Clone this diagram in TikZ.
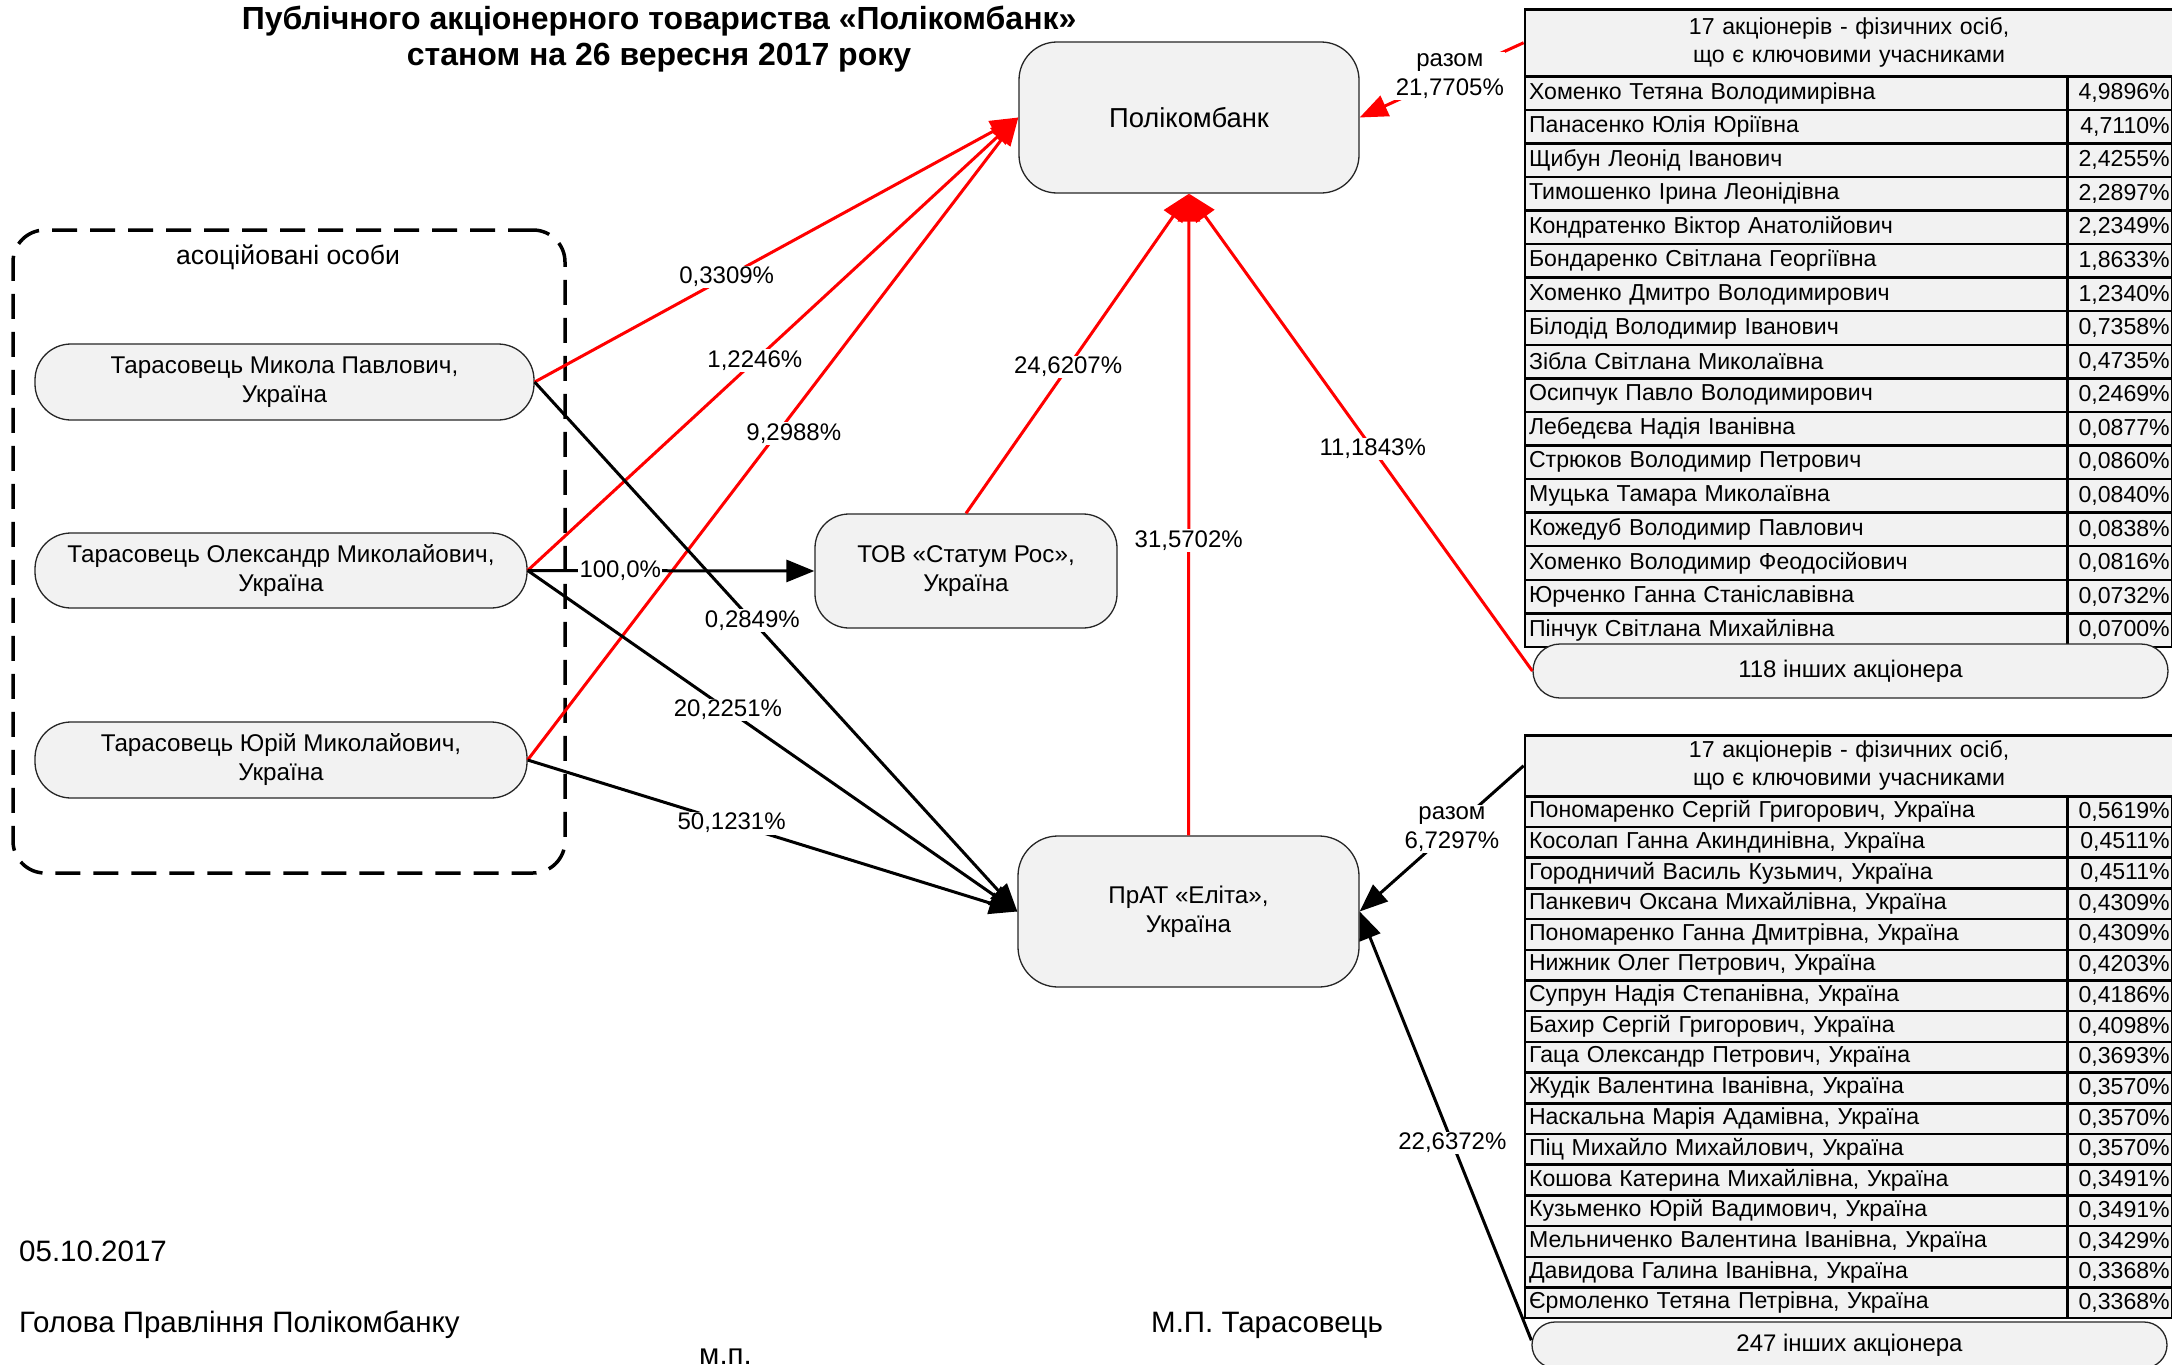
\documentclass[tikz,border=0pt]{standalone}
\usepackage{fontspec}
\setmainfont{Liberation Sans}
\usetikzlibrary{arrows.meta,calc}
\definecolor{boxgray}{HTML}{F2F2F2}
\newcommand\fTitle{\fontsize{32}{38}\selectfont\bfseries}
\newcommand\fNode{\fontsize{24.2}{29}\selectfont}
\newcommand\fBig{\fontsize{27.4}{31}\selectfont}
\newcommand\fLbl{\fontsize{24}{29}\selectfont}
\newcommand\fTab{\fontsize{23.1}{28}\selectfont}
\newcommand\fGrp{\fontsize{26.6}{30}\selectfont}
\newcommand\fFoot{\fontsize{29.5}{35}\selectfont}
\begin{document}
\begin{tikzpicture}[x=1pt,y=-1pt,
  box/.style={draw=black!85, line width=1.3pt, fill=boxgray, align=center, font=\fNode, inner sep=0pt},
  lbl/.style={fill=white, inner sep=1.5pt, font=\fLbl},
  redln/.style={draw=red, line width=3pt, -{Triangle[length=28pt,width=22pt]}},
  blkln/.style={draw=black, line width=3pt, -{Triangle[length=28pt,width=22pt]}},
  tcell/.style={draw, line width=2.5pt, fill=boxgray, font=\fTab, inner ysep=0pt, anchor=north west},
  namecell/.style={tcell, text width=534pt, align=left, inner xsep=4.2pt},
  pctcell/.style={tcell, text width=100.5pt, align=right, inner xsep=2pt},
  headcell/.style={tcell, text width=640pt, align=center, inner xsep=4.2pt},
  foot/.style={font=\fFoot, inner sep=0pt, anchor=base west}
]
\useasboundingbox (0,0) rectangle (2172,1365);
\clip (0,0) rectangle (2172,1365);
\fill[white] (0,0) rectangle (2172,1365);

% title
\node[anchor=base, font=\fTitle, inner sep=0pt] (title1) at (659,29) {Публічного акціонерного товариства «Полікомбанк»};
\node[anchor=base, font=\fTitle, inner sep=0pt] (title2) at (659,65) {станом на 26 вересня 2017 року};

% associated persons group
\node[draw, line width=3.5pt, dash pattern=on 25pt off 13pt, rounded corners=32pt,
      minimum width=552pt, minimum height=643pt, inner sep=0pt] (grp) at (289,551.5) {};
\node[font=\fGrp, inner sep=0pt] (grplbl) at (288,257) {асоційовані особи};

\node[box, rounded corners=36pt, minimum width=499pt, minimum height=76pt] (p1) at (284.5,382) {Тарасовець Микола Павлович,\\Україна};
\node[box, rounded corners=36pt, minimum width=492pt, minimum height=75pt] (p2) at (281,570.5) {Тарасовець Олександр Миколайович,\\Україна};
\node[box, rounded corners=36pt, minimum width=492pt, minimum height=76pt] (p3) at (281,760) {Тарасовець Юрій Миколайович,\\Україна};

% main nodes
\node[box, rounded corners=38pt, minimum width=340pt, minimum height=151pt, font=\fBig] (pol) at (1189,117.5) {Полікомбанк};
\node[box, rounded corners=34pt, minimum width=302pt, minimum height=114pt] (tov) at (966,571) {ТОВ «Статум Рос»,\\Україна};
\node[box, rounded corners=40pt, minimum width=341pt, minimum height=151pt] (prat) at (1188.5,911.5) {ПрАТ «Еліта»,\\Україна};

% table 1
\node[headcell, minimum height=67pt] (t1h) at (1523.6,8) {17 акціонерів - фізичних осіб,\\що є ключовими учасниками};
\foreach \nm/\pc [count=\i from 0] in {
  {Хоменко Тетяна Володимирівна}/{4,9896\%},
  {Панасенко Юлія Юріївна}/{4,7110\%},
  {Щибун Леонід Іванович}/{2,4255\%},
  {Тимошенко Ірина Леонідівна}/{2,2897\%},
  {Кондратенко Віктор Анатолійович}/{2,2349\%},
  {Бондаренко Світлана Георгіївна}/{1,8633\%},
  {Хоменко Дмитро Володимирович}/{1,2340\%},
  {Білодід Володимир Іванович}/{0,7358\%},
  {Зібла Світлана Миколаївна}/{0,4735\%},
  {Осипчук Павло Володимирович}/{0,2469\%},
  {Лебедєва Надія Іванівна}/{0,0877\%},
  {Стрюков Володимир Петрович}/{0,0860\%},
  {Муцька Тамара Миколаївна}/{0,0840\%},
  {Кожедуб Володимир Павлович}/{0,0838\%},
  {Хоменко Володимир Феодосійович}/{0,0816\%},
  {Юрченко Ганна Станіславівна}/{0,0732\%},
  {Пінчук Світлана Михайлівна}/{0,0700\%}}{
  \pgfmathsetmacro\yy{75+33.57*\i}
  \node[namecell, minimum height=33.57pt] (t1n\i) at (1523.6,\yy) {\nm};
  \node[pctcell, minimum height=33.57pt] (t1p\i) at (2066,\yy) {\pc};
}
\node[box, rounded corners=27pt, minimum width=635pt, minimum height=54pt, font=\fLbl] (o118) at (1850.5,671) {118 інших акціонера};

% table 2
\node[headcell, minimum height=61pt] (t2h) at (1523.6,734) {17 акціонерів - фізичних осіб,\\що є ключовими учасниками};
\foreach \nm/\pc [count=\i from 0] in {
  {Пономаренко Сергій Григорович, Україна}/{0,5619\%},
  {Косолап Ганна Акиндинівна, Україна}/{0,4511\%},
  {Городничий Василь Кузьмич, Україна}/{0,4511\%},
  {Панкевич Оксана Михайлівна, Україна}/{0,4309\%},
  {Пономаренко Ганна Дмитрівна, Україна}/{0,4309\%},
  {Нижник Олег Петрович, Україна}/{0,4203\%},
  {Супрун Надія Степанівна, Україна}/{0,4186\%},
  {Бахир Сергій Григорович, Україна}/{0,4098\%},
  {Гаца Олександр Петрович, Україна}/{0,3693\%},
  {Жудік Валентина Іванівна, Україна}/{0,3570\%},
  {Наскальна Марія Адамівна, Україна}/{0,3570\%},
  {Піц Михайло Михайлович, Україна}/{0,3570\%},
  {Кошова Катерина Михайлівна, Україна}/{0,3491\%},
  {Кузьменко Юрій Вадимович, Україна}/{0,3491\%},
  {Мельниченко Валентина Іванівна, Україна}/{0,3429\%},
  {Давидова Галина Іванівна, Україна}/{0,3368\%},
  {Єрмоленко Тетяна Петрівна, Україна}/{0,3368\%}}{
  \pgfmathsetmacro\yy{795+30.7*\i}
  \node[namecell, minimum height=30.7pt] (t2n\i) at (1523.6,\yy) {\nm};
  \node[pctcell, minimum height=30.7pt] (t2p\i) at (2066,\yy) {\pc};
}
\node[box, rounded corners=23pt, minimum width=635pt, minimum height=46pt, font=\fLbl] (o247) at (1849.5,1345) {247 інших акціонера};
\coordinate (o247w) at ($(o247.north west)!0.4!(o247.south west)$);

% connectors to Полікомбанк
\draw[redln] (p1.east) -- node[lbl, pos=.397] {0,3309\%} (pol.west);
\draw[redln] (p2.east) -- node[lbl, pos=.463] {1,2246\%} (pol.west);
\draw[redln] (p3.east) -- node[lbl, pos=.52, xshift=11pt, yshift=-8pt] {9,2988\%} (pol.west);
\draw[redln] (tov.north) -- node[lbl, pos=.458] {24,6207\%} (pol.south);
\draw[redln] (prat.north) -- node[lbl, pos=.46] {31,5702\%} (pol.south);
\draw[redln] (o118.west) -- node[lbl, pos=.465] {11,1843\%} (pol.south);
\draw[redln] (t1h.west) -- node[lbl, pos=.45, align=center] {разом\\21,7705\%} (pol.east);

% connectors to ПрАТ «Еліта» and ТОВ
\draw[blkln] (p2.east) -- node[lbl, pos=.323] {100,0\%} (tov.west);
\draw[blkln] (p1.east) -- node[lbl, pos=.451] {0,2849\%} (prat.west);
\draw[blkln] (p2.east) -- node[lbl, pos=.409] {20,2251\%} (prat.west);
\draw[blkln] (p3.east) -- node[lbl, pos=.4165] {50,1231\%} (prat.west);
\draw[blkln] (t2h.west) -- node[lbl, pos=.437, align=center] {разом\\6,7297\%} (prat.east);
\draw[blkln] (o247w) -- node[lbl, pos=.46] {22,6372\%} (prat.east);

% footer
\node[foot] (date) at (19,1261) {05.10.2017};
\node[foot] (chair) at (19,1332) {Голова Правління Полікомбанку};
\node[foot] (sign) at (1151,1332) {М.П. Тарасовець};
\node[foot] (seal) at (699,1364.5) {м.п.};
\end{tikzpicture}
\end{document}
